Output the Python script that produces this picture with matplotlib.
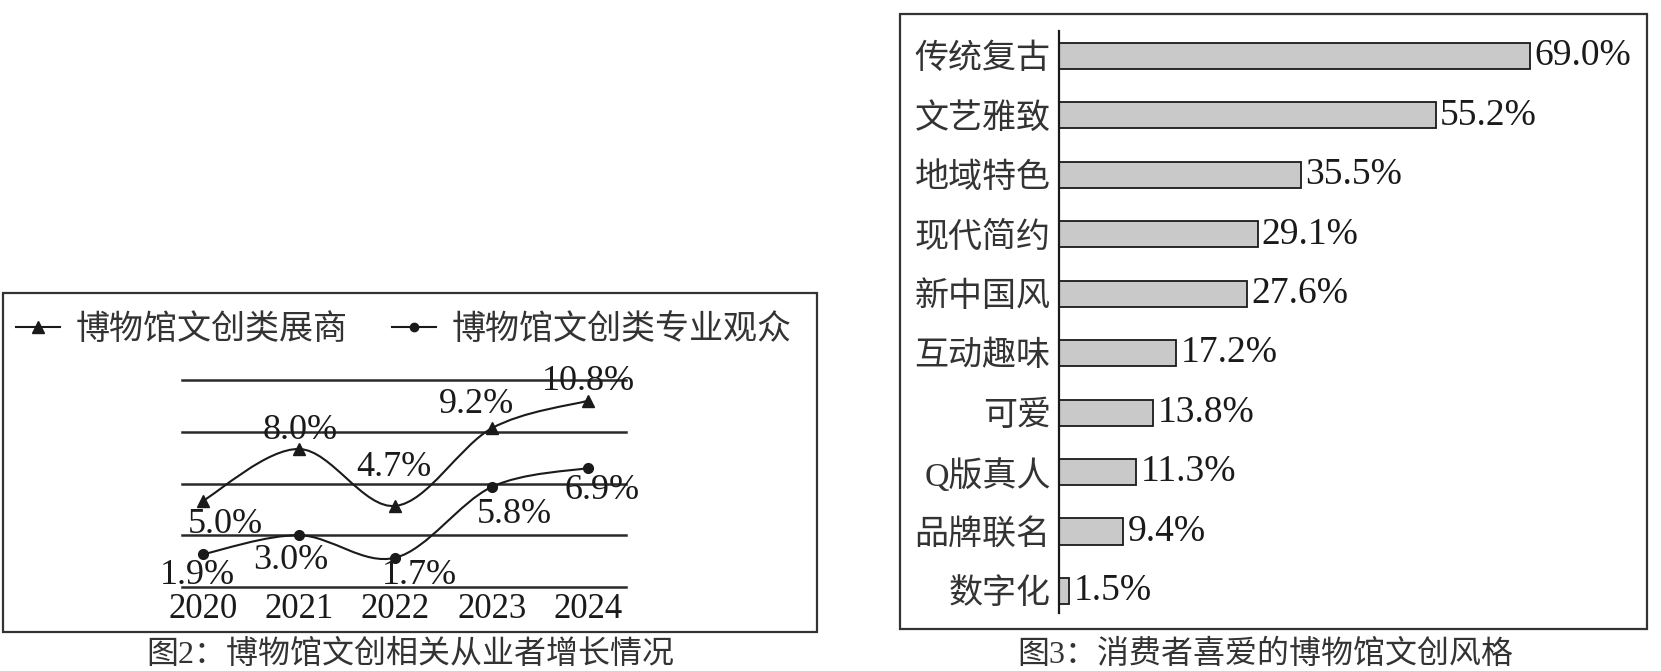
import numpy as np
import matplotlib
matplotlib.use('Agg')
import matplotlib.pyplot as plt
from matplotlib.path import Path
from matplotlib.patches import PathPatch, Rectangle
from matplotlib.lines import Line2D

# 字体：数字用衬线体，中文回落到思源黑体
plt.rcParams['font.family'] = ['Liberation Serif', 'Noto Sans CJK SC']

# 图2 数据
years = [2020, 2021, 2022, 2023, 2024]
exhibitors = [5.0, 8.0, 4.7, 9.2, 10.8]
audience = [1.9, 3.0, 1.7, 5.8, 6.9]
grid_levels = [0, 3, 6, 9, 12]
legend_names = ['博物馆文创类展商', '博物馆文创类专业观众']

# 图3 数据
styles = ['传统复古', '文艺雅致', '地域特色', '现代简约', '新中国风',
          '互动趣味', '可爱', 'Q版真人', '品牌联名', '数字化']
shares = [69.0, 55.2, 35.5, 29.1, 27.6, 17.2, 13.8, 11.3, 9.4, 1.5]

W, H = 1661, 671
fig = plt.figure(figsize=(W / 100, H / 100), dpi=100)
ink = '#1a1a1a'


def px_axes(x0, y0, x1, y1):
    return fig.add_axes([x0 / W, 1 - y1 / H, (x1 - x0) / W, (y1 - y0) / H])


def smooth_path(xs, ys):
    # 平滑折线（Catmull-Rom 转贝塞尔）
    pts = np.column_stack([xs, ys]).astype(float)
    ext = np.vstack([pts[0], pts, pts[-1]])
    verts = [pts[0]]
    codes = [Path.MOVETO]
    for i in range(len(pts) - 1):
        p0, p1, p2, p3 = ext[i], ext[i + 1], ext[i + 2], ext[i + 3]
        verts += [p1 + (p2 - p0) / 6, p2 - (p3 - p1) / 6, p2]
        codes += [Path.CURVE4] * 3
    return Path(verts, codes)


# ---------------- 图2 ----------------
fig.add_artist(Rectangle((3 / W, 1 - 632 / H), 814 / W, 339 / H,
                         transform=fig.transFigure, fill=False,
                         edgecolor='#333333', lw=1.6))

ax = px_axes(182, 380, 626, 587)
ax.set_xlim(2019.782, 2024.395)
ax.set_ylim(0, 12)
for g in grid_levels:
    ax.axhline(g, color='#2a2a2a', lw=1.8, clip_on=False, zorder=1)
for s in ax.spines.values():
    s.set_visible(False)
ax.set_yticks([])
ax.set_xticks(years)
ax.set_xticklabels([str(y) for y in years], fontsize=25)
ax.tick_params(axis='x', length=0, pad=4, colors=ink)

for vals, mk, ms in [(exhibitors, '^', 9), (audience, 'o', 7)]:
    ax.add_patch(PathPatch(smooth_path(years, vals), fill=False,
                           edgecolor=ink, lw=1.5, zorder=3, clip_on=False))
    ax.plot(years, vals, linestyle='none', marker=mk, ms=ms,
            color=ink, zorder=4, clip_on=False)

ex_offsets = [(16, -17), (1, 13), (-1, 28), (-11, 17), (0, 14)]
au_offsets = [(-4, -15), (-6, -18), (17, -13), (16, -20), (10, -16)]
for vals, offs in [(exhibitors, ex_offsets), (audience, au_offsets)]:
    for x, v, (dx, dy) in zip(years, vals, offs):
        ax.annotate(f'{v:.1f}%', (x, v), xytext=(dx, dy),
                    textcoords='offset points', ha='center', va='center',
                    fontsize=26, color=ink, zorder=5, annotation_clip=False)

handles = [Line2D([], [], color=ink, lw=1.5, marker='^', ms=9),
           Line2D([], [], color=ink, lw=1.5, marker='o', ms=6)]
fig.legend(handles, legend_names, loc='center left',
           bbox_to_anchor=(16 / W, 1 - 330 / H), ncol=2, frameon=False,
           fontsize=24.5, handlelength=1.3, handletextpad=0.45,
           columnspacing=1.3, borderpad=0, borderaxespad=0,
           labelcolor='#333333', numpoints=1)

fig.text(410 / W, 1 - 655 / H, '图2：博物馆文创相关从业者增长情况',
         ha='center', va='center', fontsize=23, color='#333333')

# ---------------- 图3 ----------------
fig.add_artist(Rectangle((900 / W, 1 - 629 / H), 747 / W, 615 / H,
                         transform=fig.transFigure, fill=False,
                         edgecolor='#333333', lw=1.6))

bx = px_axes(1059, 31, 1605, 613)
ypos = np.arange(len(styles))
bx.barh(ypos, shares, height=0.44, color='#c9c9c9', edgecolor=ink, lw=1.3)
bx.set_xlim(0, 80)
bx.set_ylim(9.37, -0.42)
for k, s in bx.spines.items():
    s.set_visible(k == 'left')
bx.spines['left'].set_linewidth(1.6)
bx.spines['left'].set_color(ink)
bx.set_xticks([])
bx.set_yticks(ypos)
bx.set_yticklabels(styles, fontsize=24.5, color='#333333')
bx.tick_params(axis='y', length=0, pad=6)
for y, v in zip(ypos, shares):
    bx.annotate(f'{v:.1f}%', (v, y), xytext=(3, 0), textcoords='offset points',
                ha='left', va='center', fontsize=27, color=ink)

fig.text(1265 / W, 1 - 655 / H, '图3：消费者喜爱的博物馆文创风格',
         ha='center', va='center', fontsize=23, color='#333333')

fig.savefig('out.png', dpi=100, facecolor='white')
